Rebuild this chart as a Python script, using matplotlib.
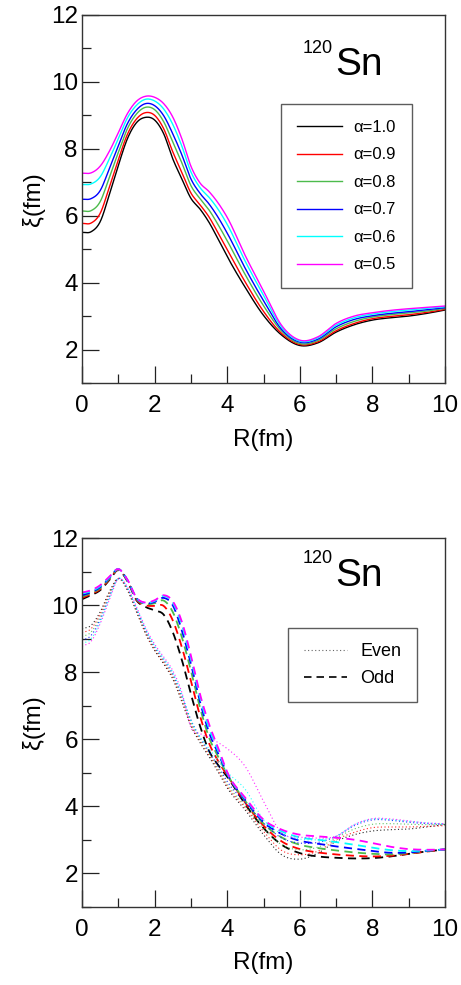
import numpy as np
import matplotlib
matplotlib.use("Agg")
import matplotlib.pyplot as plt
from matplotlib.lines import Line2D
from matplotlib.ticker import MultipleLocator

plt.rcParams['font.family'] = ['Liberation Sans', 'DejaVu Sans']

# radial grid (fm)
R = [0.0, 0.25, 0.5, 0.75, 1.0, 1.25, 1.5, 1.75, 2.0, 2.25, 2.5, 2.75,
     3.0, 3.25, 3.5, 3.75, 4.0, 4.5, 5.0, 5.5, 6.0, 6.5, 7.0, 7.5, 8.0,
     8.5, 9.0, 9.5, 10.0]

alpha_labels = ['α=1.0', 'α=0.9', 'α=0.8', 'α=0.7', 'α=0.6', 'α=0.5']
colors = ['#000000', '#ff0000', '#4cbb4c', '#0000ff', '#00ffff', '#ff00ff']

# coherence length xi(R) for each alpha (top panel)
xi_a10 = [5.50, 5.52, 5.82, 6.62, 7.50, 8.30, 8.78, 8.94, 8.86, 8.45, 7.70, 7.10,
          6.52, 6.20, 5.80, 5.30, 4.78, 3.85, 3.02, 2.43, 2.12, 2.20, 2.52, 2.74,
          2.88, 2.95, 3.00, 3.08, 3.18]
xi_a09 = [5.77, 5.78, 6.07, 6.84, 7.67, 8.43, 8.89, 9.08, 9.00, 8.60, 7.91, 7.30,
          6.68, 6.33, 5.96, 5.48, 4.98, 4.01, 3.14, 2.48, 2.15, 2.23, 2.56, 2.78,
          2.92, 2.99, 3.04, 3.11, 3.20]
xi_a08 = [6.14, 6.15, 6.42, 7.14, 7.89, 8.60, 9.04, 9.24, 9.17, 8.81, 8.20, 7.58,
          6.90, 6.51, 6.17, 5.73, 5.25, 4.23, 3.31, 2.55, 2.18, 2.27, 2.62, 2.84,
          2.97, 3.04, 3.09, 3.15, 3.23]
xi_a07 = [6.49, 6.51, 6.75, 7.40, 8.09, 8.75, 9.16, 9.35, 9.29, 8.99, 8.45, 7.82,
          7.10, 6.67, 6.35, 5.95, 5.48, 4.42, 3.46, 2.60, 2.22, 2.31, 2.68, 2.90,
          3.01, 3.08, 3.13, 3.19, 3.25]
xi_a06 = [6.93, 6.95, 7.16, 7.69, 8.30, 8.92, 9.30, 9.48, 9.43, 9.19, 8.73, 8.08,
          7.31, 6.84, 6.55, 6.19, 5.74, 4.63, 3.62, 2.67, 2.25, 2.35, 2.73, 2.95,
          3.06, 3.13, 3.18, 3.23, 3.28]
xi_a05 = [7.27, 7.28, 7.48, 7.92, 8.48, 9.05, 9.42, 9.57, 9.54, 9.35, 8.95, 8.30,
          7.48, 6.98, 6.72, 6.38, 5.95, 4.80, 3.75, 2.72, 2.28, 2.38, 2.78, 3.00,
          3.10, 3.17, 3.22, 3.26, 3.30]
xi_alpha = [xi_a10, xi_a09, xi_a08, xi_a07, xi_a06, xi_a05]

# even-parity states (bottom panel, dotted), same alpha order
even_a10 = [9.30, 9.40, 9.80, 10.40, 10.80, 10.45, 9.80, 9.15, 8.65, 8.25, 7.80, 7.12,
            6.40, 5.90, 5.48, 5.02, 4.55, 3.88, 3.15, 2.55, 2.42, 2.60, 2.95, 3.15,
            3.26, 3.30, 3.32, 3.38, 3.45]
even_a09 = [9.18, 9.30, 9.73, 10.35, 10.80, 10.47, 9.83, 9.18, 8.68, 8.29, 7.85, 7.18,
            6.46, 5.95, 5.53, 5.08, 4.60, 3.95, 3.25, 2.68, 2.55, 2.66, 3.00, 3.22,
            3.36, 3.38, 3.38, 3.40, 3.42]
even_a08 = [9.06, 9.20, 9.66, 10.30, 10.80, 10.49, 9.86, 9.22, 8.72, 8.33, 7.90, 7.24,
            6.52, 6.00, 5.58, 5.13, 4.66, 4.00, 3.35, 2.85, 2.70, 2.78, 3.05, 3.32,
            3.46, 3.48, 3.46, 3.45, 3.46]
even_a07 = [8.95, 9.10, 9.58, 10.25, 10.80, 10.51, 9.89, 9.26, 8.76, 8.37, 7.95, 7.30,
            6.58, 6.05, 5.63, 5.20, 4.74, 4.10, 3.50, 3.05, 2.90, 2.92, 3.10, 3.42,
            3.59, 3.58, 3.52, 3.48, 3.46]
even_a06 = [8.85, 9.00, 9.50, 10.20, 10.80, 10.53, 9.92, 9.30, 8.80, 8.42, 8.00, 7.35,
            6.55, 6.08, 5.72, 5.36, 5.02, 4.50, 3.60, 3.18, 3.02, 3.00, 3.10, 3.45,
            3.62, 3.60, 3.55, 3.50, 3.47]
even_a05 = [8.78, 8.92, 9.45, 10.15, 10.78, 10.55, 9.95, 9.33, 8.84, 8.46, 8.05, 7.40,
            6.35, 6.17, 6.05, 5.90, 5.72, 5.18, 4.15, 3.20, 3.08, 3.05, 3.10, 3.45,
            3.63, 3.62, 3.56, 3.50, 3.48]
xi_even = [even_a10, even_a09, even_a08, even_a07, even_a06, even_a05]

# odd-parity states (bottom panel, dashed)
odd_a10 = [10.18, 10.30, 10.45, 10.75, 11.05, 10.72, 10.15, 9.95, 9.85, 9.72, 9.20, 8.37,
           7.35, 6.40, 5.65, 5.23, 4.88, 4.05, 3.35, 2.85, 2.60, 2.50, 2.46, 2.44,
           2.45, 2.50, 2.58, 2.65, 2.71]
odd_a09 = [10.22, 10.33, 10.48, 10.77, 11.06, 10.73, 10.17, 10.00, 9.98, 9.98, 9.55, 8.75,
           7.75, 6.70, 5.88, 5.35, 4.92, 4.10, 3.42, 2.95, 2.72, 2.62, 2.56, 2.52,
           2.50, 2.52, 2.58, 2.65, 2.71]
odd_a08 = [10.26, 10.36, 10.51, 10.79, 11.07, 10.74, 10.19, 10.04, 10.06, 10.14, 9.80, 9.05,
           8.05, 6.95, 6.05, 5.48, 4.95, 4.15, 3.48, 3.07, 2.85, 2.75, 2.68, 2.62,
           2.58, 2.56, 2.60, 2.66, 2.71]
odd_a07 = [10.30, 10.39, 10.54, 10.81, 11.08, 10.75, 10.21, 10.06, 10.10, 10.22, 10.00, 9.25,
           8.25, 7.12, 6.20, 5.58, 4.97, 4.18, 3.53, 3.17, 2.97, 2.88, 2.80, 2.73,
           2.66, 2.61, 2.62, 2.67, 2.71]
odd_a06 = [10.35, 10.42, 10.57, 10.83, 11.08, 10.76, 10.22, 10.07, 10.13, 10.28, 10.08, 9.42,
           8.40, 7.25, 6.33, 5.66, 4.99, 4.22, 3.57, 3.25, 3.07, 3.00, 2.93, 2.85,
           2.76, 2.69, 2.66, 2.68, 2.71]
odd_a05 = [10.38, 10.45, 10.60, 10.85, 11.08, 10.77, 10.23, 10.08, 10.15, 10.30, 10.12, 9.51,
           8.50, 7.35, 6.45, 5.75, 5.02, 4.25, 3.60, 3.30, 3.15, 3.10, 3.06, 3.00,
           2.90, 2.79, 2.72, 2.70, 2.71]
xi_odd = [odd_a10, odd_a09, odd_a08, odd_a07, odd_a06, odd_a05]


def smooth_curve(x, y, xs):
    """Cubic Hermite curve through (x, y) with three-point slopes."""
    x = np.asarray(x, float)
    y = np.asarray(y, float)
    h = np.diff(x)
    d = np.diff(y) / h
    m = np.empty_like(y)
    m[1:-1] = (h[1:] * d[:-1] + h[:-1] * d[1:]) / (h[:-1] + h[1:])
    m[0] = d[0]
    m[-1] = d[-1]
    idx = np.clip(np.searchsorted(x, xs) - 1, 0, len(x) - 2)
    t = (xs - x[idx]) / h[idx]
    h00 = 2 * t**3 - 3 * t**2 + 1
    h10 = t**3 - 2 * t**2 + t
    h01 = -2 * t**3 + 3 * t**2
    h11 = t**3 - t**2
    return (h00 * y[idx] + h10 * h[idx] * m[idx]
            + h01 * y[idx + 1] + h11 * h[idx] * m[idx + 1])


Rs = np.linspace(0, 10, 800)

fig = plt.figure(figsize=(4.61, 9.85), dpi=100)
ax1 = fig.add_axes([0.1779, 0.6112, 0.7874, 0.3736])
ax2 = fig.add_axes([0.1779, 0.0795, 0.7874, 0.3740])


def style_axes(ax, sn_base, sup_base):
    ax.set_xlim(0, 10)
    ax.set_ylim(1, 12)
    ax.xaxis.set_major_locator(MultipleLocator(2))
    ax.xaxis.set_minor_locator(MultipleLocator(1))
    ax.yaxis.set_major_locator(MultipleLocator(2))
    ax.yaxis.set_minor_locator(MultipleLocator(1))
    ax.tick_params(which='both', direction='in', top=False, right=False,
                   width=0.9, color='#222222')
    ax.tick_params(which='major', length=12.5, labelsize=17.5)
    ax.tick_params(which='minor', length=6.3)
    ax.tick_params(axis='x', which='major', pad=9)
    ax.tick_params(axis='y', which='major', pad=3)
    for s in ax.spines.values():
        s.set_linewidth(1.0)
        s.set_color('#333333')
    ax.set_xlabel('R(fm)', fontsize=17.5, labelpad=8)
    ax.set_ylabel('ξ(fm)', fontsize=17.5, labelpad=4)
    ax.text(0.697, sn_base, 'Sn', transform=ax.transAxes, fontsize=28,
            ha='left', va='baseline')
    ax.text(0.692, sup_base, '120', transform=ax.transAxes, fontsize=13,
            ha='right', va='baseline')


style_axes(ax1, 0.837, 0.897)
style_axes(ax2, 0.870, 0.932)

for vals, c, lab in zip(xi_alpha, colors, alpha_labels):
    ax1.plot(Rs, smooth_curve(R, vals, Rs), color=c, lw=1.0, label=lab)

leg1 = ax1.legend(loc='upper left', bbox_to_anchor=(0.548, 0.758),
                  frameon=True, fancybox=False, fontsize=12,
                  handlelength=2.7, handletextpad=0.7, labelspacing=0.75,
                  borderpad=0.95, borderaxespad=0)
leg1.get_frame().set_edgecolor('#333333')
leg1.get_frame().set_linewidth(1.0)

for ev, od, c in zip(xi_even, xi_odd, colors):
    ax2.plot(Rs, smooth_curve(R, ev, Rs), color=c, lw=0.8,
             linestyle=(0, (1, 2.2)), alpha=0.85)
    ax2.plot(Rs, smooth_curve(R, od, Rs), color=c, lw=1.3,
             linestyle=(0, (4.5, 3)))

handles = [Line2D([], [], color='#666666', lw=0.8, linestyle=(0, (1, 2.2))),
           Line2D([], [], color='black', lw=1.2, linestyle=(0, (4.5, 3)))]
leg2 = ax2.legend(handles, ['Even', 'Odd'], loc='upper left',
                  bbox_to_anchor=(0.568, 0.757), frameon=True, fancybox=False,
                  fontsize=13, handlelength=2.4, handletextpad=0.75,
                  labelspacing=0.55, borderpad=0.85, borderaxespad=0)
leg2.get_frame().set_edgecolor('#333333')
leg2.get_frame().set_linewidth(1.0)

fig.savefig('out.png', dpi=100, facecolor='white')
